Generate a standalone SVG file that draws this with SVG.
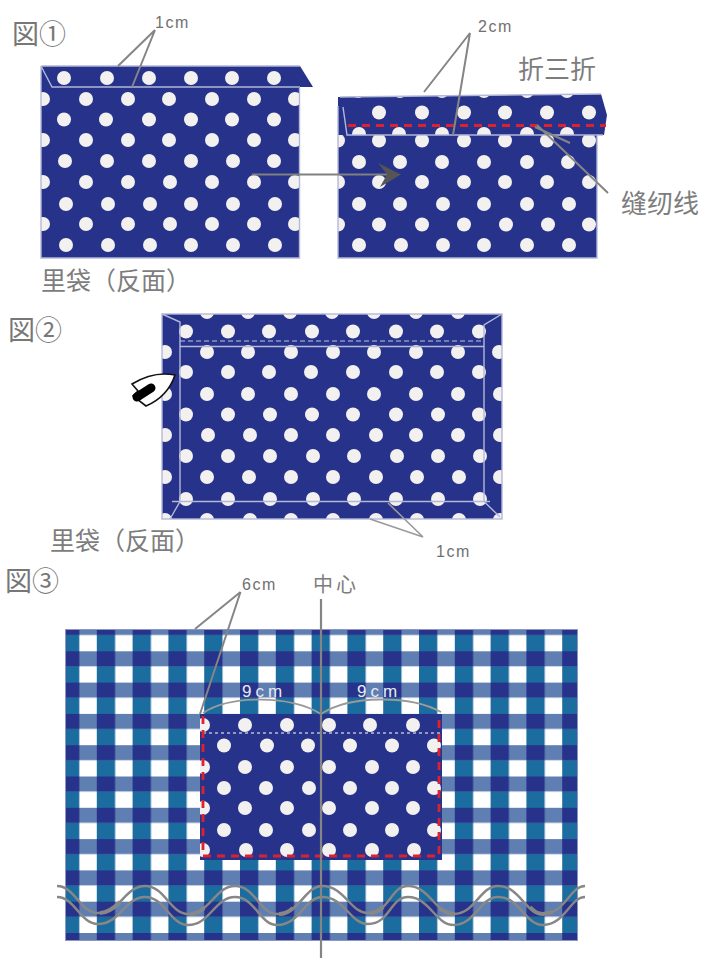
<svg xmlns="http://www.w3.org/2000/svg" width="702" height="958" viewBox="0 0 702 958">
<style>
.fab{fill:#27328a}
.edge{stroke:#b4b8d8;stroke-width:1.4;fill:none}
.d circle{r:7px;fill:#f3f1f0}
.lead{stroke:#858585;stroke-width:2;fill:none}
.txt{font-family:"Noto Sans CJK SC","Noto Sans CJK JP",sans-serif;fill:#7d7d7d}
.fig{font-family:"Noto Sans CJK JP","Noto Sans CJK SC",sans-serif;fill:#777;font-size:27px}
.hand{font-family:"Liberation Sans",sans-serif;fill:#707070;font-size:16px;letter-spacing:1.500px}
.nine{font-family:"Liberation Sans",sans-serif;fill:#e6eaf4;font-size:17px;letter-spacing:4px}
.red{stroke:#dc2230;stroke-width:2.800;fill:none;stroke-dasharray:8 6}
.wave{stroke:#878787;stroke-width:2.500;fill:none}
</style>
<defs>
<pattern id="ging" patternUnits="userSpaceOnUse" x="61" y="620" width="35.8" height="31.3">
<rect width="35.8" height="31.3" fill="#fff"/>
<rect width="18.3" height="31.3" fill="#1b6c9f"/>
<rect width="35.8" height="15" fill="#5f7fb3"/>
<rect width="18.3" height="15" fill="#27328a"/>
</pattern>
<clipPath id="c1"><rect x="41" y="66" width="259" height="192"/></clipPath>
<clipPath id="c2b"><rect x="338" y="135" width="259" height="123"/></clipPath>
<clipPath id="c2f"><path d="M340,97 L601,94 L607,115 L604,135 L338,135 Z"/></clipPath>
<clipPath id="c3"><rect x="162" y="314" width="340" height="205"/></clipPath>
<clipPath id="c4"><rect x="200" y="714" width="242" height="146"/></clipPath>
</defs>
<rect width="702" height="958" fill="#fff"/>

<g id="fig1-left">
<path class="fab" d="M41,66 H300 L313,87 H300 V258 H41 Z"/>
<g class="d" clip-path="url(#c1)">
<circle cx="64" cy="78"/><circle cx="107" cy="78"/><circle cx="149" cy="78"/><circle cx="191" cy="78"/><circle cx="232" cy="78"/><circle cx="274" cy="78"/>
<circle cx="43" cy="99"/><circle cx="86" cy="99"/><circle cx="128" cy="99"/><circle cx="169" cy="99"/><circle cx="212" cy="99"/><circle cx="254" cy="99"/><circle cx="295" cy="99"/>
<circle cx="64" cy="119.5"/><circle cx="106" cy="119.5"/><circle cx="149" cy="119.5"/><circle cx="191" cy="119.5"/><circle cx="232" cy="119.5"/><circle cx="274" cy="119.5"/>
<circle cx="43" cy="140"/><circle cx="86" cy="140"/><circle cx="128" cy="140"/><circle cx="169" cy="140"/><circle cx="212" cy="140"/><circle cx="254" cy="140"/><circle cx="295" cy="140"/>
<circle cx="65" cy="161"/><circle cx="107" cy="161"/><circle cx="149" cy="161"/><circle cx="191" cy="161"/><circle cx="233" cy="161"/><circle cx="274" cy="161"/>
<circle cx="43" cy="182"/><circle cx="86" cy="182"/><circle cx="128" cy="182"/><circle cx="170" cy="182"/><circle cx="212" cy="182"/><circle cx="254" cy="182"/><circle cx="295" cy="182"/>
<circle cx="66" cy="204"/><circle cx="108" cy="204"/><circle cx="150" cy="204"/><circle cx="191" cy="204"/><circle cx="233" cy="204"/><circle cx="275" cy="204"/>
<circle cx="43" cy="224"/><circle cx="86" cy="224"/><circle cx="128" cy="224"/><circle cx="170" cy="224"/><circle cx="212" cy="224"/><circle cx="254" cy="224"/><circle cx="295" cy="224"/>
<circle cx="66" cy="245"/><circle cx="108" cy="245"/><circle cx="150" cy="245"/><circle cx="191" cy="245"/><circle cx="233" cy="245"/><circle cx="275" cy="245"/>
</g>
<path class="edge" d="M41,66 L52,87 H300 M41,66 H300 M41,66 V258 H299.500 V88"/>
</g>

<g id="fig1-right">
<rect class="fab" x="338" y="97" width="259" height="161"/>
<g class="d" clip-path="url(#c2b)">
<circle cx="379" cy="140.5"/><circle cx="422" cy="140.5"/><circle cx="464" cy="140.5"/><circle cx="505" cy="140.5"/><circle cx="547" cy="140.5"/><circle cx="589" cy="140.5"/><circle cx="338" cy="140.5"/>
<circle cx="359" cy="162"/><circle cx="400" cy="162"/><circle cx="442" cy="162"/><circle cx="484" cy="162"/><circle cx="527" cy="162"/><circle cx="568" cy="162"/>
<circle cx="338" cy="182"/><circle cx="379" cy="182"/><circle cx="422" cy="182"/><circle cx="464" cy="182"/><circle cx="505" cy="182"/><circle cx="547" cy="182"/><circle cx="589" cy="182"/>
<circle cx="359" cy="204"/><circle cx="400" cy="204"/><circle cx="443" cy="204"/><circle cx="484" cy="204"/><circle cx="527" cy="204"/><circle cx="569" cy="204"/>
<circle cx="338" cy="224.5"/><circle cx="379" cy="224.5"/><circle cx="422" cy="224.5"/><circle cx="464" cy="224.5"/><circle cx="506" cy="224.5"/><circle cx="548" cy="224.5"/><circle cx="589" cy="224.5"/>
<circle cx="359" cy="245"/><circle cx="401" cy="245"/><circle cx="443" cy="245"/><circle cx="484" cy="245"/><circle cx="527" cy="245"/><circle cx="569" cy="245"/>
</g>
<path class="fab" d="M340,97 L601,94 L607,115 L604,135 L338,135 V106 Z"/>
<g class="d" clip-path="url(#c2f)">
<circle cx="358" cy="91"/><circle cx="400" cy="91"/><circle cx="442" cy="91"/><circle cx="484" cy="91"/><circle cx="527" cy="91"/><circle cx="567" cy="91"/>
<circle cx="379" cy="112.5"/><circle cx="422" cy="112.5"/><circle cx="464" cy="112.5"/><circle cx="505" cy="112.5"/><circle cx="547" cy="112.5"/><circle cx="589" cy="112.5"/>
<circle cx="359" cy="134"/><circle cx="399" cy="134"/><circle cx="442" cy="134"/><circle cx="484" cy="134"/><circle cx="527" cy="134"/><circle cx="567" cy="134"/>
</g>
<path class="edge" d="M340,97 L601,94 M343,107 L347,135 H603 M338,106 V258 H597 V136"/>
<path class="red" d="M348,125.5 H606"/>
</g>

<g id="fig2-panel">
<rect class="fab" x="162" y="314" width="340" height="205"/>
<g class="d" clip-path="url(#c3)">
<circle cx="207" cy="312"/><circle cx="248" cy="312"/><circle cx="290" cy="312"/><circle cx="332" cy="312"/><circle cx="374" cy="312"/><circle cx="416" cy="312"/><circle cx="458" cy="312"/>
<circle cx="186" cy="331.5"/><circle cx="228" cy="331.5"/><circle cx="269" cy="331.5"/><circle cx="312" cy="331.5"/><circle cx="353" cy="331.5"/><circle cx="396" cy="331.5"/><circle cx="437" cy="331.5"/><circle cx="479" cy="331.5"/>
<circle cx="165" cy="352"/><circle cx="207" cy="352"/><circle cx="248" cy="352"/><circle cx="291" cy="352"/><circle cx="333" cy="352"/><circle cx="374" cy="352"/><circle cx="416" cy="352"/><circle cx="458" cy="352"/><circle cx="499" cy="352"/>
<circle cx="186" cy="372"/><circle cx="228" cy="372"/><circle cx="269" cy="372"/><circle cx="311" cy="372"/><circle cx="353" cy="372"/><circle cx="396" cy="372"/><circle cx="437" cy="372"/><circle cx="479" cy="372"/>
<circle cx="165" cy="394"/><circle cx="207" cy="394"/><circle cx="248" cy="394"/><circle cx="291" cy="394"/><circle cx="333" cy="394"/><circle cx="374" cy="394"/><circle cx="416" cy="394"/><circle cx="458" cy="394"/><circle cx="500" cy="394"/>
<circle cx="186" cy="414.5"/><circle cx="228" cy="414.5"/><circle cx="270" cy="414.5"/><circle cx="312" cy="414.5"/><circle cx="353" cy="414.5"/><circle cx="396" cy="414.5"/><circle cx="438" cy="414.5"/><circle cx="479" cy="414.5"/>
<circle cx="165" cy="435"/><circle cx="208" cy="435"/><circle cx="250" cy="435"/><circle cx="291" cy="435"/><circle cx="333" cy="435"/><circle cx="376" cy="435"/><circle cx="416" cy="435"/><circle cx="458" cy="435"/><circle cx="500" cy="435"/>
<circle cx="186" cy="456"/><circle cx="228" cy="456"/><circle cx="270" cy="456"/><circle cx="313" cy="456"/><circle cx="354" cy="456"/><circle cx="397" cy="456"/><circle cx="438" cy="456"/><circle cx="480" cy="456"/>
<circle cx="165" cy="477"/><circle cx="207" cy="477"/><circle cx="249" cy="477"/><circle cx="291" cy="477"/><circle cx="333" cy="477"/><circle cx="376" cy="477"/><circle cx="417" cy="477"/><circle cx="459" cy="477"/><circle cx="500" cy="477"/>
<circle cx="186" cy="499"/><circle cx="228" cy="499"/><circle cx="270" cy="499"/><circle cx="313" cy="499"/><circle cx="354" cy="499"/><circle cx="396" cy="499"/><circle cx="438" cy="499"/><circle cx="480" cy="499"/>
<circle cx="165" cy="520"/><circle cx="207" cy="520"/><circle cx="250" cy="520"/><circle cx="291" cy="520"/><circle cx="333" cy="520"/><circle cx="376" cy="520"/><circle cx="417" cy="520"/><circle cx="459" cy="520"/><circle cx="500" cy="520"/>
</g>
<rect class="edge" x="162" y="314" width="340" height="205"/>
<path class="edge" d="M162,314 L180,322 V501.5 L170,519 M502,314 L484,325 V501.5 L500,517 M180,346.5 H484 M172,501.5 H490"/>
<path d="M180,341 H484" stroke="#c2c5df" stroke-width="1.2" stroke-dasharray="5 3" fill="none"/>
</g>

<g id="iron">
<path d="M175,375 C160,372 145,376 132,384 L138,391 L133,396 L146,406 C160,400 170,390 175,375 Z" fill="#fff" stroke="#111" stroke-width="1.6"/>
<path d="M137,397 L151,388" stroke="#000" stroke-width="9" stroke-linecap="round" fill="none"/>
</g>

<g id="fig3-fabric">
<rect x="65.5" y="629.5" width="512" height="311" fill="url(#ging)" stroke="#8d96c2" stroke-width="1"/>
</g>

<g id="fig3-pocket">
<rect class="fab" x="200" y="714" width="242" height="146"/>
<g class="d" clip-path="url(#c4)">
<circle cx="203" cy="725"/><circle cx="245" cy="725"/><circle cx="287" cy="725"/><circle cx="329" cy="725"/><circle cx="370" cy="725"/><circle cx="413" cy="725"/>
<circle cx="224" cy="745.5"/><circle cx="267" cy="745.5"/><circle cx="308" cy="745.5"/><circle cx="350" cy="745.5"/><circle cx="392" cy="745.5"/><circle cx="434" cy="745.5"/>
<circle cx="203" cy="767"/><circle cx="245" cy="767"/><circle cx="287" cy="767"/><circle cx="329" cy="767"/><circle cx="372" cy="767"/><circle cx="413" cy="767"/>
<circle cx="224" cy="788"/><circle cx="266" cy="788"/><circle cx="309" cy="788"/><circle cx="350" cy="788"/><circle cx="392" cy="788"/><circle cx="434" cy="788"/>
<circle cx="203" cy="808"/><circle cx="245" cy="808"/><circle cx="287" cy="808"/><circle cx="329" cy="808"/><circle cx="372" cy="808"/><circle cx="413" cy="808"/>
<circle cx="224" cy="830"/><circle cx="266" cy="830"/><circle cx="309" cy="830"/><circle cx="350" cy="830"/><circle cx="392" cy="830"/><circle cx="434" cy="830"/>
<circle cx="203" cy="850"/><circle cx="246" cy="850"/><circle cx="287" cy="850"/><circle cx="329" cy="850"/><circle cx="372" cy="850"/><circle cx="414" cy="850"/>
</g>
<path d="M203,733 H440" stroke="#b9bcd8" stroke-width="1.5" stroke-dasharray="3 3" fill="none"/>
<path class="red" d="M203,716 V856 H439 V714"/>
</g>

<g id="connectors">
<path class="lead" d="M155,30 L118,66 M155,30 L132,87"/>
<path class="lead" d="M470,33 L424,92 M470,33 L453,135"/>
<path class="lead" d="M608,193 L537,125 M570,143 L535,127"/>
<path d="M252,174.5 H388" stroke="#808080" stroke-width="1.8" fill="none"/>
<path d="M378,163 L401,174.5 L380,187 L387,174.5 Z" fill="#555"/>
<path d="M423,537 L388,503 M423,537 L370,519" stroke="#9a9a9a" stroke-width="1.6" fill="none"/>
<path class="lead" d="M240.500,592 L195,629 M240.500,592 L200,714"/>
<path d="M203,713 C230,695 290,695 321,714 C350,695 410,695 441,712" stroke="#9a9a9a" stroke-width="1.8" fill="none"/>
<path d="M321,599 V958" stroke="#858585" stroke-width="2.2" fill="none"/>
<g id="waves">
<path class="wave" d="M57,886 C75,886 80,913 98,913 C120,913 125,886 145,886 C165,886 170,914 188,914 C210,914 215,886 235,886 C255,886 260,914 277,914 C300,914 305,886 322,886 C345,886 350,913 368,913 C390,913 390,886 408,886 C430,886 435,914 454,914 C475,914 480,886 498,886 C520,886 525,914 543,914 C565,914 570,886 585,886"/>
<path class="wave" d="M57,897 C75,897 80,924 98,924 C120,924 125,897 145,897 C165,897 170,925 188,925 C210,925 215,897 235,897 C255,897 260,925 277,925 C300,925 305,897 322,897 C345,897 350,924 368,924 C390,924 390,897 408,897 C430,897 435,925 454,925 C475,925 480,897 498,897 C520,897 525,925 543,925 C565,925 570,897 585,897"/>
<path d="M100,913 C108,913 114,908 120,902 M190,914 C195,914 200,912 204,908 M279,914 C284,914 289,912 293,908 M370,913 C374,913 379,911 383,907 M440,908 C444,912 449,914 455,914 M530,907 C534,912 539,914 543,914 L553,912" stroke="#878787" stroke-width="4" fill="none"/>
</g>
</g>

<g id="labels">
<text class="fig" x="12" y="44">図①</text>
<text class="fig" x="8" y="340">図②</text>
<text class="fig" x="5" y="591">図③</text>
<text class="hand" x="155" y="28">1cm</text>
<text class="hand" x="478" y="32">2cm</text>
<text class="hand" x="436" y="557">1cm</text>
<text class="hand" x="242" y="590">6cm</text>
<text class="nine" x="242" y="697">9cm</text>
<text class="nine" x="357" y="697">9cm</text>
<text class="txt" x="41" y="290" font-size="25">里袋（反面）</text>
<text class="txt" x="50" y="550" font-size="25">里袋（反面）</text>
<text class="txt" x="518" y="79" font-size="26">折三折</text>
<text class="txt" x="621" y="213" font-size="26">缝纫线</text>
<text class="txt" x="313" y="592" font-size="20" letter-spacing="3">中心</text>
</g>
</svg>
